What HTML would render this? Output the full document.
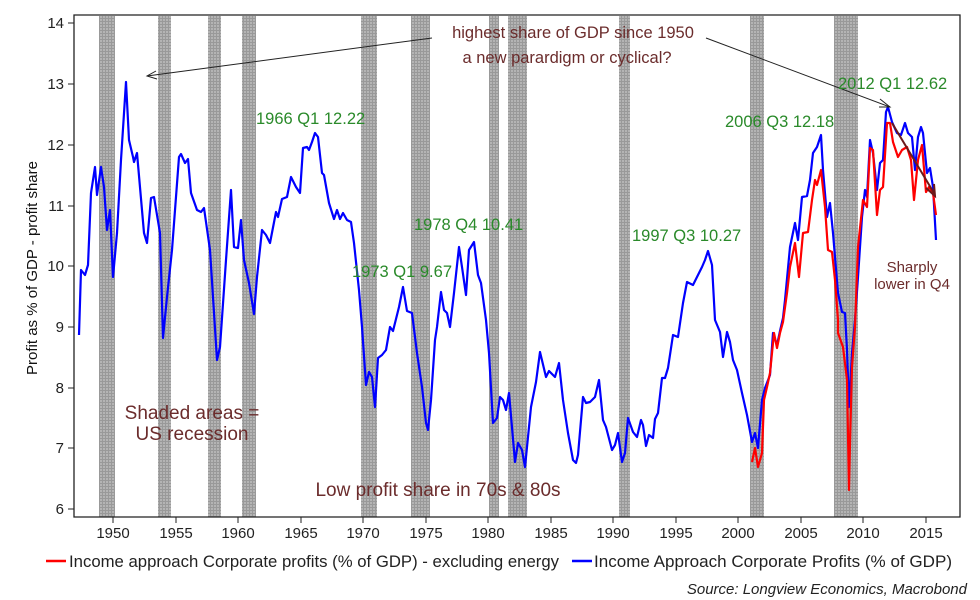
<!DOCTYPE html>
<html><head><meta charset="utf-8"><style>
html,body{margin:0;padding:0;background:#fff;}
svg{display:block;font-family:"Liberation Sans",sans-serif;}
</style></head><body>
<svg width="980" height="600" viewBox="0 0 980 600" xmlns="http://www.w3.org/2000/svg">
<defs>
<pattern id="hatch" width="3" height="3" patternUnits="userSpaceOnUse">
<rect width="3" height="3" fill="#b4b4b4"/><rect width="1" height="3" fill="#999"/><rect width="3" height="1" fill="#999"/>
</pattern>
</defs>
<g fill="url(#hatch)">
<rect x="99" y="16" width="16" height="501"/>
<rect x="158" y="16" width="13" height="501"/>
<rect x="208" y="16" width="13" height="501"/>
<rect x="242" y="16" width="14" height="501"/>
<rect x="361" y="16" width="16" height="501"/>
<rect x="411" y="16" width="19" height="501"/>
<rect x="489" y="16" width="10" height="501"/>
<rect x="508" y="16" width="19" height="501"/>
<rect x="619" y="16" width="11" height="501"/>
<rect x="750" y="16" width="14" height="501"/>
<rect x="834" y="16" width="24" height="501"/>
</g>
<path d="M74,15 H960 V517 H74 Z" fill="none" stroke="#222" stroke-width="1.3"/>
<g stroke="#222" stroke-width="1">
<line x1="68" y1="23" x2="74" y2="23"/><line x1="68" y1="84" x2="74" y2="84"/><line x1="68" y1="145" x2="74" y2="145"/><line x1="68" y1="206" x2="74" y2="206"/><line x1="68" y1="266" x2="74" y2="266"/><line x1="68" y1="327" x2="74" y2="327"/><line x1="68" y1="388" x2="74" y2="388"/><line x1="68" y1="448" x2="74" y2="448"/><line x1="68" y1="509" x2="74" y2="509"/>
<line x1="113" y1="517" x2="113" y2="523"/><line x1="176" y1="517" x2="176" y2="523"/><line x1="238" y1="517" x2="238" y2="523"/><line x1="301" y1="517" x2="301" y2="523"/><line x1="363" y1="517" x2="363" y2="523"/><line x1="426" y1="517" x2="426" y2="523"/><line x1="488" y1="517" x2="488" y2="523"/><line x1="551" y1="517" x2="551" y2="523"/><line x1="613" y1="517" x2="613" y2="523"/><line x1="676" y1="517" x2="676" y2="523"/><line x1="738" y1="517" x2="738" y2="523"/><line x1="801" y1="517" x2="801" y2="523"/><line x1="863" y1="517" x2="863" y2="523"/><line x1="926" y1="517" x2="926" y2="523"/>
</g>
<g font-size="15" fill="#222" text-anchor="end">
<text x="64" y="28">14</text><text x="64" y="89">13</text><text x="64" y="150">12</text><text x="64" y="211">11</text><text x="64" y="271">10</text><text x="64" y="332">9</text><text x="64" y="393">8</text><text x="64" y="453">7</text><text x="64" y="514">6</text>
</g>
<g font-size="15" fill="#222" text-anchor="middle">
<text x="113" y="538">1950</text><text x="176" y="538">1955</text><text x="238" y="538">1960</text><text x="301" y="538">1965</text><text x="363" y="538">1970</text><text x="426" y="538">1975</text><text x="488" y="538">1980</text><text x="551" y="538">1985</text><text x="613" y="538">1990</text><text x="676" y="538">1995</text><text x="738" y="538">2000</text><text x="801" y="538">2005</text><text x="863" y="538">2010</text><text x="926" y="538">2015</text>
</g>
<text transform="translate(37,268) rotate(-90)" font-size="15" fill="#111" text-anchor="middle">Profit as % of GDP - profit share</text>

<polyline fill="none" stroke="#0000ff" stroke-width="2.2" stroke-linejoin="round" points="79,335 81,270 85,275 88,265 91,193 95,167 97,195 101,167 104,187 107,230 110,210 113,277 117,233 121,160 126,82 129,140 133,157 134,162 137,153 144,233 147,243 151,198 154,197 160,233 163,338 167,297 172,250 179,157 181,154 185,163 188,159 191,193 197,210 201,212 204,208 210,250 217,360 220,347 226,260 231,190 234,247 238,248 241,220 244,260 249,283 254,314 257,277 262,230 266,235 270,243 276,212 278,217 282,199 287,197 291,177 296,187 300,193 303,148 307,147 309,150 312,142 315,133 318,137 322,173 324,175 329,203 334,219 337,210 340,219 343,213 347,220 351,222 354,243 359,290 362,327 366,385 369,372 372,377 375,407 378,358 382,355 386,350 390,327 393,331 399,307 403,287 407,311 412,313 417,353 422,387 426,423 428,430 431,400 435,340 437,327 441,292 444,310 447,313 450,327 454,293 459,247 462,267 466,295 469,250 474,242 478,275 481,283 486,320 489,353 493,423 497,418 500,397 503,400 506,410 509,393 515,462 518,443 522,450 525,467 531,407 536,382 540,352 546,377 549,371 555,377 559,363 563,400 568,433 573,460 576,463 578,455 583,397 586,403 590,402 595,397 599,380 603,420 606,427 612,450 615,445 618,433 622,462 625,453 628,418 633,432 637,437 641,420 643,425 646,446 649,435 653,438 655,419 658,413 662,378 665,378 668,368 673,335 678,337 683,303 687,282 693,285 702,267 705,260 708,251 712,265 715,320 720,332 723,357 727,332 730,342 733,360 737,370 742,393 747,415 752,442 755,433 758,448 762,400 765,388 770,375 773,333 777,345 780,331 783,318 785,300 790,247 795,223 798,240 802,197 807,196 810,180 813,153 817,147 821,135 823,170 827,217 830,203 833,233 838,293 842,312 845,313 847,350 849,407 852,353 855,320 858,277 862,217 865,190 867,197 870,140 873,153 877,190 880,163 883,160 886,112 888,107 892,122 897,133 901,135 905,123 908,133 912,137 915,170 918,137 921,127 923,133 927,173 930,168 933,187 936,240"/>
<polyline fill="none" stroke="#ff0000" stroke-width="2.2" stroke-linejoin="round" points="752,462 755,448 758,467 762,453 764,400 767,387 770,373 774,333 777,348 780,333 783,322 787,293 790,267 795,243 799,277 803,233 808,232 812,200 815,180 817,185 821,170 825,207 828,250 832,252 835,280 838,320 838,333 843,347 847,380 849,490 850,443 852,367 855,327 858,247 863,200 867,207 870,148 873,150 877,215 880,190 883,187 887,123 890,123 893,142 898,157 902,150 907,147 911,160 914,200 918,160 922,145 926,192 929,187 933,193 936,215"/>
<line x1="892" y1="123" x2="934" y2="193" stroke="#6b1a1a" stroke-width="2"/>
<path d="M926,188 L935,196 L934,184" fill="none" stroke="#6b1a1a" stroke-width="2"/>

<g stroke="#222" stroke-width="1" fill="none">
<line x1="432" y1="38" x2="147" y2="76"/>
<path d="M156,71 L147,76 L157,79"/>
<line x1="706" y1="38" x2="890" y2="107"/>
<path d="M880,99 L890,107 L879,107"/>
</g>
<g fill="#6b2c2c" text-anchor="middle">
<text x="573" y="38" font-size="16.5">highest share of GDP since 1950</text>
<text x="567" y="63" font-size="16.5">a new parardigm or cyclical?</text>
<text x="192" y="419" font-size="19">Shaded areas =</text>
<text x="192" y="440" font-size="19">US recession</text>
<text x="438" y="496" font-size="19">Low profit share in 70s &amp; 80s</text>
<text x="912" y="272" font-size="15">Sharply</text>
<text x="912" y="289" font-size="15">lower in Q4</text>
</g>
<g fill="#2a8a2a" font-size="16.5">
<text x="256" y="124">1966 Q1 12.22</text>
<text x="352" y="277">1973 Q1 9.67</text>
<text x="414" y="230">1978 Q4 10.41</text>
<text x="632" y="241">1997 Q3 10.27</text>
<text x="725" y="127">2006 Q3 12.18</text>
<text x="838" y="89">2012 Q1 12.62</text>
</g>
<line x1="46" y1="561" x2="66" y2="561" stroke="#ff0000" stroke-width="2.5"/>
<text x="69" y="567" font-size="16.5" fill="#222" textLength="490" lengthAdjust="spacingAndGlyphs">Income approach Corporate profits (% of GDP) - excluding energy</text>
<line x1="572" y1="561" x2="592" y2="561" stroke="#0000ff" stroke-width="2.5"/>
<text x="594" y="567" font-size="16.5" fill="#222" textLength="358" lengthAdjust="spacingAndGlyphs">Income Approach Corporate Profits (% of GDP)</text>
<text x="967" y="594" font-size="15" font-style="italic" fill="#222" text-anchor="end">Source: Longview Economics, Macrobond</text>
</svg>
</body></html>
